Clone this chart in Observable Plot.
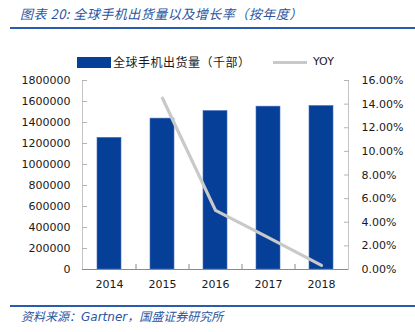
<!DOCTYPE html>
<html>
<head>
<meta charset="utf-8">
<script src="https://cdn.jsdelivr.net/npm/d3@7"></script>
<script src="https://cdn.jsdelivr.net/npm/@observablehq/plot@0.6"></script>
<style>
  html, body { margin: 0; padding: 0; background: #fff; }
  #wrap { position: relative; width: 415px; height: 332px; overflow: hidden; font-family: "DejaVu Sans", sans-serif; }
  #wrap svg { position: absolute; left: 0; top: 0; }
  .abs { position: absolute; white-space: nowrap; }
  .title { left: 20px; top: 4px; font-family: "Noto Sans CJK SC", sans-serif; font-style: italic; font-size: 13px; color: #2a55a0; letter-spacing: 0.5px; }
  .rule { left: 10px; right: 0; height: 2px; background: #2a5cae; }
  .src { left: 21px; top: 307px; font-family: "Noto Sans CJK SC", sans-serif; font-style: italic; font-size: 12px; color: #2a55a0; }
  .src .en { font-family: "DejaVu Sans", sans-serif; }
  .lg { font-size: 11px; color: #1a1a1a; }
</style>
</head>
<body>
<div id="wrap"></div>
<script>
// ---- data ----
const years = ["2014", "2015", "2016", "2017", "2018"];
const shipments = [1254000, 1437000, 1509000, 1551000, 1557000]; // 千部
const yoyYears = ["2015", "2016", "2017", "2018"];
const yoy = [0.1450, 0.0500, 0.0270, 0.0035];
const leftTicks = [0, 200000, 400000, 600000, 800000, 1000000, 1200000, 1400000, 1600000, 1800000];
const rightTicks = [0, 0.02, 0.04, 0.06, 0.08, 0.10, 0.12, 0.14, 0.16];
const titleText = "图表 20:  全球手机出货量以及增长率（按年度）";
const seriesBar = "全球手机出货量（千部）";
const seriesLine = "YOY";
const sourceCN1 = "资料来源：";
const sourceEN = "Gartner";
const sourceCN2 = "，国盛证券研究所";

const leftMax = 1800000, rightMax = 0.16;
const k = leftMax / rightMax; // map percent onto the left scale

const barData = years.map((y, i) => ({year: y, value: shipments[i]}));
const lineData = yoyYears.map((y, i) => ({year: y, value: yoy[i] * k}));

const blue = "#053f97";
const grey = "#c9c9c9";

const chart = Plot.plot({
  width: 415,
  height: 332,
  marginTop: 80,
  marginBottom: 63,
  marginLeft: 82,
  marginRight: 67,
  style: {fontFamily: "DejaVu Sans, sans-serif", fontSize: "11px", color: "#1a1a1a", background: "transparent"},
  x: {type: "band", domain: years, paddingInner: 0.55, paddingOuter: 0.275, label: null},
  y: {domain: [0, leftMax], label: null},
  marks: [
    Plot.frame({anchor: "left", stroke: "#c4c4c4"}),
    Plot.frame({anchor: "right", stroke: "#c4c4c4"}),
    Plot.barY(barData, {x: "year", y: "value", fill: blue, stroke: "#4a72b8", strokeWidth: 0.6}),
    Plot.line(lineData, {x: "year", y: "value", stroke: grey, strokeWidth: 3.2}),
    Plot.ruleY([0], {stroke: "#8a8a8a", strokeWidth: 1}),
    // left axis labels + inward ticks
    Plot.axisY({anchor: "left", ticks: leftTicks, tickSize: 0, tickPadding: 12, tickFormat: d3.format("d"), fill: "#1a1a1a"}),
    Plot.axisY({anchor: "left", ticks: leftTicks.slice(1), tickSize: -5, tickFormat: () => "", stroke: "#b4b4b4"}),
    // right axis (percent)
    Plot.axisY({anchor: "right", ticks: rightTicks.map(p => p * k), tickSize: 0, tickPadding: 13,
      tickFormat: v => (v / k * 100).toFixed(2) + "%", fill: "#1a1a1a"}),
    Plot.axisY({anchor: "right", ticks: rightTicks.slice(1).map(p => p * k), tickSize: -5, tickFormat: () => "", stroke: "#b4b4b4"}),
    // x axis labels and boundary ticks
    Plot.axisX({anchor: "bottom", tickSize: 0, tickPadding: 11, fill: "#1a1a1a"}),
    Plot.axisX({anchor: "bottom", ticks: years.slice(1), tickSize: -5, tickFormat: () => "", dx: -26.5, stroke: "#8a8a8a"})
  ]
});

const wrap = document.getElementById("wrap");
wrap.appendChild(chart);

function add(cls, html, style) {
  const d = document.createElement("div");
  d.className = "abs " + cls;
  d.innerHTML = html;
  Object.assign(d.style, style || {});
  wrap.appendChild(d);
  return d;
}
add("title", titleText);
add("rule", "", {top: "27px"});
add("rule", "", {top: "305px"});
add("src", sourceCN1 + '<span class="en">' + sourceEN + '</span>' + sourceCN2);
// legend
add("", "", {left: "77px", top: "57px", width: "34px", height: "11px", background: blue});
add("lg", seriesBar, {left: "113px", top: "53px", fontFamily: "Noto Sans CJK SC, sans-serif", fontSize: "12px", letterSpacing: "0.5px"});
add("", "", {left: "273px", top: "61px", width: "34px", height: "3px", background: grey});
add("lg", seriesLine, {left: "313px", top: "55px"});
</script>
</body>
</html>
